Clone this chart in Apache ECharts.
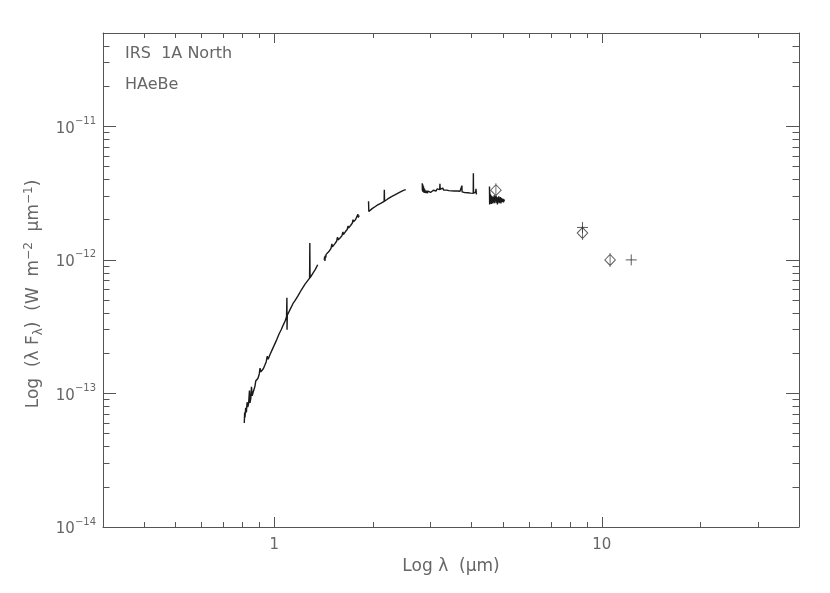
<!DOCTYPE html>
<html>
<head>
<meta charset="utf-8">
<title>IRS 1A North SED</title>
<script src="https://cdn.jsdelivr.net/npm/echarts@6/dist/echarts.min.js"></script>
<style>
  html, body { margin: 0; background: #fff; }
  #chart { width: 830px; height: 593px; }
</style>
</head>
<body>
<div id="chart"></div>
<script>
// spectrum pieces (wavelength in um, lambda*F_lambda in W m^-2)
const seg1Wave = [0.810, 0.812, 0.814, 0.818, 0.822, 0.826, 0.830, 0.835, 0.840, 0.843, 0.848, 0.852, 0.856, 0.862, 0.868, 0.873, 0.878, 0.884, 0.892, 0.900, 0.905, 0.910, 0.918, 0.926, 0.935, 0.945, 0.952, 0.958, 0.970, 0.985, 1.000, 1.017, 1.035, 1.050, 1.065, 1.080, 1.090, 1.093, 1.094, 1.096, 1.12, 1.14, 1.157, 1.18, 1.212, 1.24, 1.265, 1.282, 1.284, 1.286, 1.31, 1.335, 1.357];
const seg1Flux = [6.0e-14, 7.2e-14, 6.6e-14, 7.8e-14, 7.2e-14, 8.6e-14, 7.9e-14, 8.4e-14, 1.05e-13, 8.5e-14, 9.2e-14, 1.12e-13, 9.6e-14, 1.02e-13, 1.08e-13, 1.13e-13, 1.24e-13, 1.21e-13, 1.30e-13, 1.40e-13, 1.55e-13, 1.45e-13, 1.49e-13, 1.53e-13, 1.62e-13, 1.73e-13, 1.90e-13, 1.80e-13, 1.95e-13, 2.12e-13, 2.30e-13, 2.52e-13, 2.80e-13, 3.00e-13, 3.25e-13, 3.50e-13, 3.75e-13, 5.2e-13, 3.0e-13, 3.85e-13, 4.30e-13, 4.70e-13, 4.95e-13, 5.35e-13, 6.0e-13, 6.55e-13, 7.0e-13, 7.3e-13, 1.34e-12, 7.35e-13, 7.9e-13, 8.5e-13, 9.2e-13];

const seg2Wave = [1.421, 1.425, 1.428, 1.432, 1.436, 1.44, 1.45, 1.47, 1.49, 1.50, 1.505, 1.53, 1.55, 1.56, 1.565, 1.588, 1.61, 1.62, 1.625, 1.65, 1.67, 1.68, 1.685, 1.71, 1.73, 1.74, 1.745, 1.77, 1.79, 1.80, 1.805, 1.818];
const seg2Flux = [1.00e-12, 1.06e-12, 0.98e-12, 1.08e-12, 1.04e-12, 1.10e-12, 1.10e-12, 1.16e-12, 1.22e-12, 1.32e-12, 1.25e-12, 1.32e-12, 1.38e-12, 1.48e-12, 1.41e-12, 1.46e-12, 1.52e-12, 1.62e-12, 1.55e-12, 1.63e-12, 1.69e-12, 1.80e-12, 1.73e-12, 1.81e-12, 1.88e-12, 2.00e-12, 1.93e-12, 2.00e-12, 2.05e-12, 2.20e-12, 2.08e-12, 2.15e-12];

const seg3Wave = [1.940, 1.944, 1.96, 1.99, 2.03, 2.07, 2.12, 2.165, 2.168, 2.171, 2.22, 2.28, 2.35, 2.42, 2.48, 2.50, 2.51, 2.52];
const seg3Flux = [2.75e-12, 2.30e-12, 2.35e-12, 2.42e-12, 2.50e-12, 2.58e-12, 2.66e-12, 2.74e-12, 3.35e-12, 2.75e-12, 2.86e-12, 2.98e-12, 3.10e-12, 3.22e-12, 3.32e-12, 3.28e-12, 3.42e-12, 3.36e-12];

const seg4Wave = [2.830, 2.833, 2.836, 2.84, 2.845, 2.85, 2.855, 2.86, 2.865, 2.87, 2.88, 2.89, 2.90, 2.91, 2.92, 2.935, 2.95, 2.965, 2.98, 3.00, 3.02, 3.04, 3.06, 3.08, 3.10, 3.12, 3.14, 3.16, 3.18, 3.20, 3.205, 3.21, 3.23, 3.25, 3.27, 3.29, 3.31, 3.33, 3.36, 3.38, 3.41, 3.43, 3.47, 3.50, 3.54, 3.58, 3.62, 3.65, 3.69, 3.735, 3.74, 3.745, 3.78, 3.82, 3.86, 3.90, 3.94, 3.98, 4.02, 4.05, 4.054, 4.058, 4.08, 4.10, 4.12, 4.13, 4.14, 4.152];
const seg4Flux = [3.75e-12, 3.30e-12, 3.70e-12, 3.25e-12, 3.62e-12, 3.22e-12, 3.55e-12, 3.20e-12, 3.45e-12, 3.18e-12, 3.38e-12, 3.17e-12, 3.30e-12, 3.16e-12, 3.30e-12, 3.16e-12, 3.28e-12, 3.17e-12, 3.29e-12, 3.20e-12, 3.30e-12, 3.20e-12, 3.32e-12, 3.22e-12, 3.33e-12, 3.28e-12, 3.40e-12, 3.32e-12, 3.44e-12, 3.36e-12, 3.72e-12, 3.38e-12, 3.47e-12, 3.40e-12, 3.45e-12, 3.33e-12, 3.36e-12, 3.28e-12, 3.33e-12, 3.25e-12, 3.30e-12, 3.24e-12, 3.29e-12, 3.23e-12, 3.28e-12, 3.22e-12, 3.28e-12, 3.22e-12, 3.27e-12, 3.22e-12, 3.60e-12, 3.23e-12, 3.26e-12, 3.19e-12, 3.24e-12, 3.18e-12, 3.23e-12, 3.16e-12, 3.21e-12, 3.15e-12, 4.45e-12, 3.16e-12, 3.20e-12, 3.12e-12, 3.22e-12, 3.40e-12, 3.10e-12, 3.14e-12];

const seg5Wave = [4.54, 4.545, 4.55, 4.56, 4.57, 4.58, 4.59, 4.60, 4.61, 4.62, 4.635, 4.65, 4.665, 4.68, 4.695, 4.71, 4.725, 4.74, 4.755, 4.77, 4.785, 4.80, 4.815, 4.83, 4.845, 4.86, 4.875, 4.89, 4.905, 4.92, 4.935, 4.95, 4.965, 4.98, 4.995, 5.01, 5.025, 5.04];
const seg5Flux = [3.55e-12, 2.60e-12, 3.25e-12, 2.65e-12, 3.10e-12, 2.70e-12, 3.05e-12, 2.62e-12, 3.00e-12, 2.68e-12, 2.98e-12, 2.65e-12, 2.95e-12, 2.70e-12, 3.05e-12, 2.66e-12, 2.98e-12, 2.75e-12, 3.02e-12, 2.68e-12, 2.95e-12, 2.60e-12, 2.92e-12, 2.70e-12, 3.00e-12, 2.66e-12, 2.92e-12, 2.72e-12, 2.95e-12, 2.65e-12, 2.90e-12, 2.70e-12, 2.88e-12, 2.72e-12, 2.86e-12, 2.70e-12, 2.84e-12, 2.75e-12];

// photometry
const diamondWave = [4.75, 8.73, 10.6];
const diamondFlux = [3.33e-12, 1.59e-12, 1.0e-12];
const plusWave = [8.73, 12.3];
const plusFlux = [1.75e-12, 1.0e-12];

// axis ranges and ticks
const xRange = [0.3, 40];
const yRange = [1e-14, 5e-11];
const majorXTicks = [1, 10];
const minorXTicks = [0.4, 0.5, 0.6, 0.7, 0.8, 0.9, 2, 3, 4, 5, 6, 7, 8, 9, 20, 30];
const majorYTicks = [1e-14, 1e-13, 1e-12, 1e-11];
const minorYTicks = [2e-14, 3e-14, 4e-14, 5e-14, 6e-14, 7e-14, 8e-14, 9e-14,
                     2e-13, 3e-13, 4e-13, 5e-13, 6e-13, 7e-13, 8e-13, 9e-13,
                     2e-12, 3e-12, 4e-12, 5e-12, 6e-12, 7e-12, 8e-12, 9e-12,
                     2e-11, 3e-11, 4e-11];

const FONT = 'DejaVu Sans';
const TXT = '#666';
const AX = '#555';

const lg = v => Math.log10(v);

// value axes in log10 space, only used to draw ticks / labels / frame
function tickAxis(position, ticks, len, range, showLine, extra) {
  return Object.assign({
    type: 'value',
    position: position,
    min: lg(range[0]),
    max: lg(range[1]),
    axisLine: { show: showLine, onZero: false, lineStyle: { color: AX, width: 1 } },
    axisTick: { show: true, inside: true, length: len, customValues: ticks.map(lg), lineStyle: { color: AX, width: 1 } },
    axisLabel: { show: false },
    splitLine: { show: false },
    silent: true
  }, extra || {});
}

const supRich = {
  b: { fontFamily: FONT, fontSize: 15, color: TXT, verticalAlign: 'bottom', lineHeight: 20 },
  s: { fontFamily: FONT, fontSize: 10, color: TXT, verticalAlign: 'top', lineHeight: 12 }
};

const chart = echarts.init(document.getElementById('chart'));

const segments = [
  [seg1Wave, seg1Flux], [seg2Wave, seg2Flux], [seg3Wave, seg3Flux],
  [seg4Wave, seg4Flux], [seg5Wave, seg5Flux]
];

const specSeries = segments.map(([w, f]) => ({
  type: 'line',
  xAxisIndex: 0,
  yAxisIndex: 0,
  showSymbol: false,
  symbol: 'none',
  lineStyle: { color: '#1a1a1a', width: 1.4 },
  data: w.map((x, i) => [x, f[i]])
}));

const titleStyle = { fontFamily: FONT, fontSize: 16, fontWeight: 'normal', color: TXT };

const option = {
  animation: false,
  backgroundColor: '#fff',
  title: [
    { text: 'IRS  1A North', left: 125, top: 46, padding: 0, textStyle: titleStyle },
    { text: 'HAeBe', left: 125, top: 77, padding: 0, textStyle: titleStyle }
  ],
  grid: { left: 103, right: 31, top: 33, bottom: 66 },
  xAxis: [
    { type: 'log', logBase: 10, min: xRange[0], max: xRange[1], show: false },
    tickAxis('bottom', majorXTicks, 10, xRange, true, {
      axisLabel: {
        show: true, customValues: majorXTicks.map(lg), margin: 11,
        fontFamily: FONT, fontSize: 15, color: TXT,
        formatter: v => String(Math.round(Math.pow(10, v)))
      },
      name: 'Log λ  (μm)',
      nameLocation: 'middle',
      nameGap: 31,
      nameTextStyle: { fontFamily: FONT, fontSize: 17, color: TXT }
    }),
    tickAxis('bottom', minorXTicks, 5, xRange, false),
    tickAxis('top', majorXTicks, 10, xRange, true),
    tickAxis('top', minorXTicks, 5, xRange, false)
  ],
  yAxis: [
    { type: 'log', logBase: 10, min: yRange[0], max: yRange[1], show: false },
    tickAxis('left', majorYTicks, 13, yRange, true, {
      axisLabel: {
        show: true, customValues: majorYTicks.map(lg), margin: 7,
        formatter: v => '{b|10}{s|−' + Math.abs(Math.round(v)) + '}',
        rich: supRich
      },
      name: '{t|Log  (λ F}{sub|λ}{t|)  (W  m}{sup|−2}{t|  μm}{sup|−1}{t|)}',
      nameLocation: 'middle',
      nameGap: 57,
      nameTextStyle: {
        padding: [0, 28, 0, 0],
        rich: {
          t: { fontFamily: FONT, fontSize: 17, color: TXT, verticalAlign: 'middle', lineHeight: 22 },
          sub: { fontFamily: FONT, fontSize: 12, color: TXT, verticalAlign: 'bottom', lineHeight: 12 },
          sup: { fontFamily: FONT, fontSize: 12, color: TXT, verticalAlign: 'top', lineHeight: 12 }
        }
      }
    }),
    tickAxis('left', minorYTicks, 6.5, yRange, false),
    tickAxis('right', majorYTicks, 13, yRange, true),
    tickAxis('right', minorYTicks, 6.5, yRange, false)
  ],
  series: specSeries.concat([
    {
      type: 'scatter',
      xAxisIndex: 0,
      yAxisIndex: 0,
      symbol: 'path://M5,0L10,5.5L5,11L0,5.5Z M5,-1.5L5,12.5',
      symbolSize: [10.5, 14],
      itemStyle: { color: 'rgba(0,0,0,0)', borderColor: '#333', borderWidth: 1 },
      data: diamondWave.map((x, i) => [x, diamondFlux[i]])
    },
    {
      type: 'scatter',
      xAxisIndex: 0,
      yAxisIndex: 0,
      symbol: 'path://M0,5L10,5M5,0L5,10',
      symbolSize: 11,
      itemStyle: { color: 'rgba(0,0,0,0)', borderColor: '#333', borderWidth: 1 },
      data: plusWave.map((x, i) => [x, plusFlux[i]])
    }
  ])
};

chart.setOption(option);
</script>
</body>
</html>
